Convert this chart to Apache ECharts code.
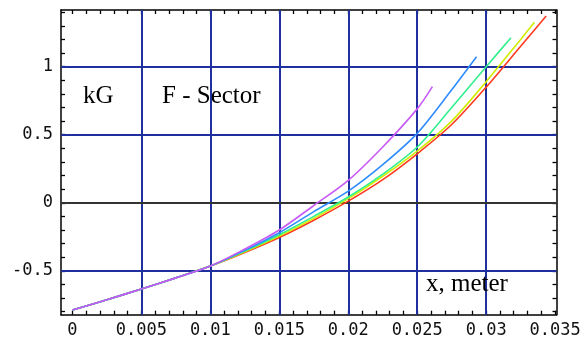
<!DOCTYPE html>
<html>
<head>
<meta charset="utf-8">
<script src="https://cdn.jsdelivr.net/npm/echarts@6/dist/echarts.min.js"></script>
<style>
html,body{margin:0;padding:0;background:#fff;}
#chart{width:584px;height:343px;}
</style>
</head>
<body>
<div id="chart"></div>
<script>
// ---- data ----
const xLabelValues = [0, 0.005, 0.01, 0.015, 0.02, 0.025, 0.03, 0.035];
const yLabelValues = [-0.5, 0, 0.5, 1];
const xGridValues = [0.005, 0.01, 0.015, 0.02, 0.025, 0.03];
const yGridValues = [-0.5, 0.5, 1];
const yZeroLine = [0];

const xMagenta = [0, 0.0025, 0.005, 0.0075, 0.01, 0.0125, 0.015, 0.0175, 0.02, 0.0225, 0.025, 0.0261];
const yMagenta = [-0.788, -0.712, -0.634, -0.552, -0.465, -0.34, -0.2, -0.02, 0.165, 0.41, 0.69, 0.853];
const xBlue = [0, 0.0025, 0.005, 0.0075, 0.01, 0.0125, 0.015, 0.0175, 0.02, 0.0225, 0.025, 0.0275, 0.0293];
const yBlue = [-0.788, -0.712, -0.634, -0.552, -0.465, -0.35, -0.22, -0.065, 0.085, 0.28, 0.51, 0.83, 1.073];
const xGreen = [0, 0.0025, 0.005, 0.0075, 0.01, 0.0125, 0.015, 0.0175, 0.02, 0.0225, 0.025, 0.0275, 0.03, 0.0318];
const yGreen = [-0.788, -0.712, -0.634, -0.552, -0.465, -0.355, -0.235, -0.1, 0.042, 0.21, 0.41, 0.70, 1.0, 1.213];
const xYellow = [0, 0.0025, 0.005, 0.0075, 0.01, 0.0125, 0.015, 0.0175, 0.02, 0.0225, 0.025, 0.0275, 0.03, 0.0325, 0.0335];
const yYellow = [-0.788, -0.712, -0.634, -0.552, -0.465, -0.36, -0.245, -0.115, 0.03, 0.195, 0.38, 0.60, 0.89, 1.2, 1.326];
const xRed = [0, 0.0025, 0.005, 0.0075, 0.01, 0.0125, 0.015, 0.0175, 0.02, 0.0225, 0.025, 0.0275, 0.03, 0.0325, 0.03435];
const yRed = [-0.788, -0.712, -0.634, -0.552, -0.465, -0.365, -0.255, -0.128, 0.012, 0.17, 0.36, 0.575, 0.85, 1.15, 1.372];

const X_MIN = -0.00083, X_MAX = 0.0351;
const Y_MIN = -0.8226, Y_MAX = 1.4166;

// minor tick positions
const xTickValues = [];
for (let i = 0; i <= 35; i++) xTickValues.push(+(i * 0.001).toFixed(4));
const yTickValues = [];
for (let i = -8; i <= 14; i++) yTickValues.push(+(i * 0.1).toFixed(2));

function zip(xs, ys) { return xs.map((x, i) => [x, ys[i]]); }
function fmt(v) { return String(+(+v).toFixed(4)); }

const labelFont = {fontFamily: 'DejaVu Sans Mono', fontSize: 17, color: '#111'};
const frameLine = {show: true, onZero: false, lineStyle: {color: '#000', width: 1.5}};

const chart = echarts.init(document.getElementById('chart'), null, {renderer: 'canvas'});

function curve(name, xs, ys, color) {
  return {
    name, type: 'line', xAxisIndex: 0, yAxisIndex: 0, z: 5,
    data: zip(xs, ys), showSymbol: false, smooth: 0.3,
    lineStyle: {color, width: 1.6}, silent: true, animation: false
  };
}

const gridStyle = {color: '#1f2f9e', width: 2, type: 'solid'};

const option = {
  backgroundColor: '#fff',
  animation: false,
  grid: {left: 61, top: 10, right: 27.5, bottom: 28.3, containLabel: false},
  xAxis: [
    {type: 'value', position: 'bottom', min: X_MIN, max: X_MAX,
     axisLine: frameLine,
     axisTick: {show: true, inside: true, length: 4, customValues: xTickValues, lineStyle: {color: '#000', width: 1.3}},
     axisLabel: Object.assign({show: true, margin: 7, customValues: xLabelValues, formatter: fmt}, labelFont),
     splitLine: {show: false}},
    {type: 'value', position: 'top', min: X_MIN, max: X_MAX,
     axisLine: frameLine,
     axisTick: {show: true, inside: true, length: 4, customValues: xTickValues, lineStyle: {color: '#000', width: 1.3}},
     axisLabel: {show: false}, splitLine: {show: false}}
  ],
  yAxis: [
    {type: 'value', position: 'left', min: Y_MIN, max: Y_MAX,
     axisLine: frameLine,
     axisTick: {show: true, inside: true, length: 4, customValues: yTickValues, lineStyle: {color: '#000', width: 1.3}},
     axisLabel: Object.assign({show: true, margin: 8, customValues: yLabelValues, formatter: fmt}, labelFont),
     splitLine: {show: false}},
    {type: 'value', position: 'right', min: Y_MIN, max: Y_MAX,
     axisLine: frameLine,
     axisTick: {show: true, inside: true, length: 4, customValues: yTickValues, lineStyle: {color: '#000', width: 1.3}},
     axisLabel: {show: false}, splitLine: {show: false}}
  ],
  series: [
    {
      name: 'grid', type: 'line', data: [], z: 1, silent: true,
      markLine: {
        silent: true, symbol: 'none', animation: false, precision: 6, label: {show: false},
        data: [
          ...xGridValues.map(v => ({xAxis: v, lineStyle: gridStyle})),
          ...yGridValues.map(v => ({yAxis: v, lineStyle: gridStyle})),
          ...yZeroLine.map(v => ({yAxis: v, lineStyle: {color: '#333', width: 2, type: 'solid'}}))
        ]
      }
    },
    curve('red', xRed, yRed, '#ff3a1e'),
    curve('yellow', xYellow, yYellow, '#d2ec00'),
    curve('green', xGreen, yGreen, '#2ff08c'),
    curve('blue', xBlue, yBlue, '#2f8cff'),
    curve('magenta', xMagenta, yMagenta, '#c85af5')
  ],
  graphic: [
    {type: 'text', left: 83, top: 84, z: 10, style: {text: 'kG', font: '25px "Liberation Serif"', fill: '#000'}},
    {type: 'text', left: 162, top: 84, z: 10, style: {text: 'F - Sector', font: '25px "Liberation Serif"', fill: '#000'}},
    {type: 'text', left: 426, top: 272, z: 10, style: {text: 'x, meter', font: '25px "Liberation Serif"', fill: '#000'}}
  ]
};
chart.setOption(option);
</script>
</body>
</html>
